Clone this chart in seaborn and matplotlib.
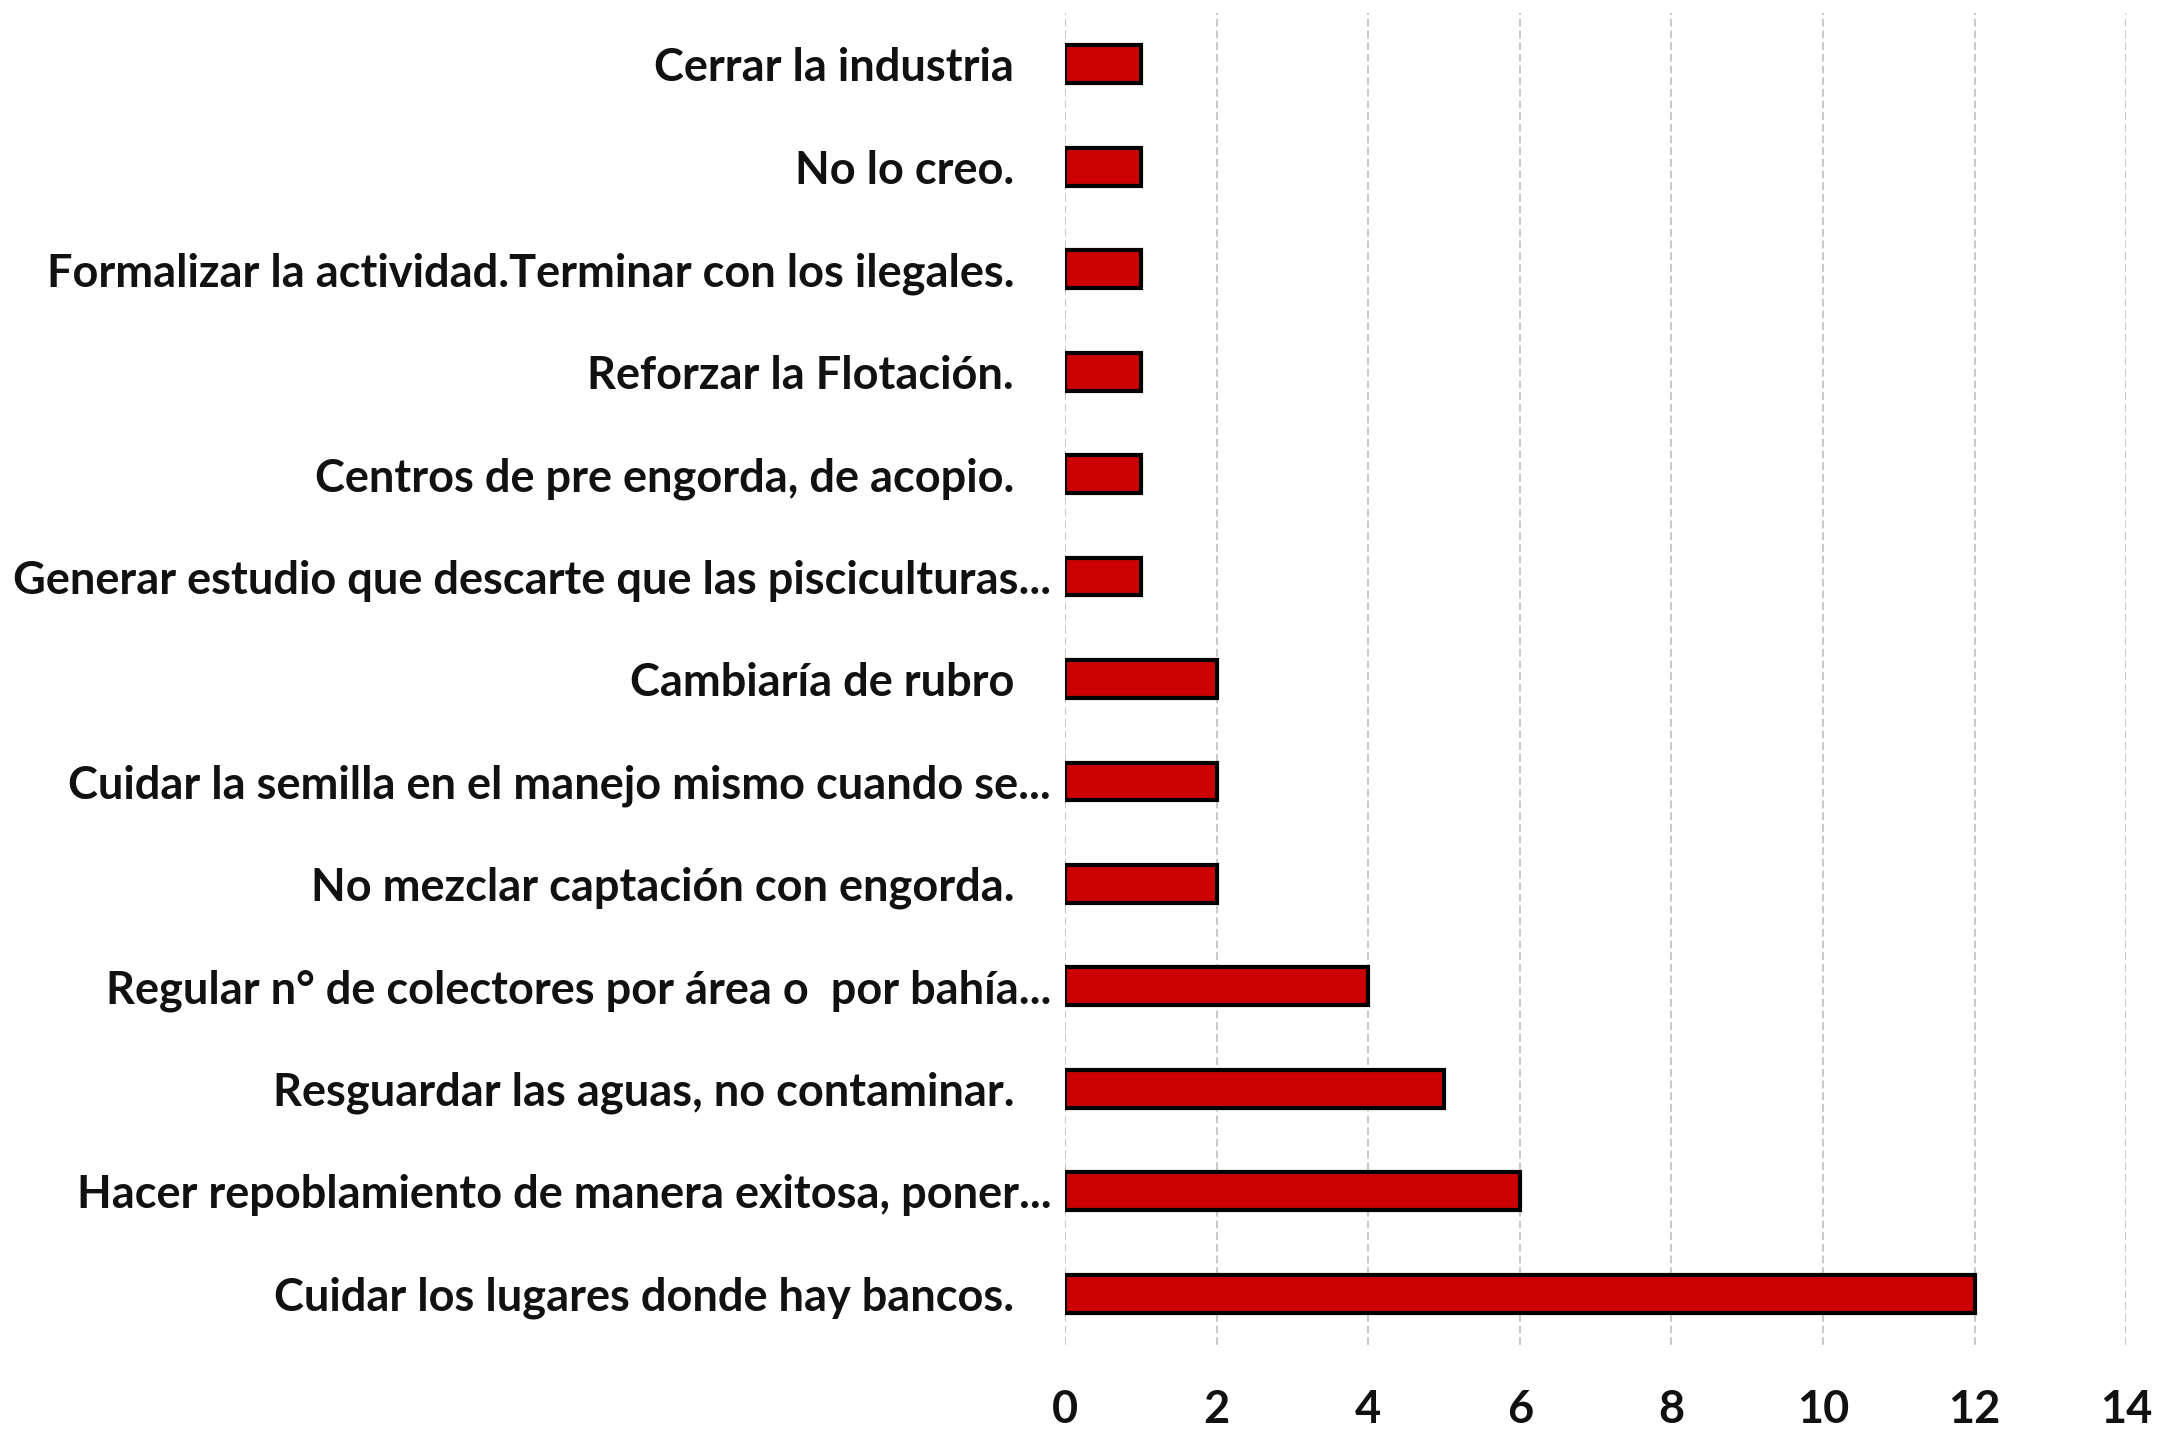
import matplotlib
matplotlib.use("Agg")
import matplotlib.pyplot as plt
import matplotlib.transforms as mtransforms
import seaborn as sns
import pandas as pd

# Survey answers and how many respondents gave each one
categories = [
    "Cerrar la industria",
    "No lo creo.",
    "Formalizar la actividad.Terminar con los ilegales.",
    "Reforzar la Flotación.",
    "Centros de pre engorda, de acopio.",
    "Generar estudio que descarte que las pisciculturas...",
    "Cambiaría de rubro",
    "Cuidar la semilla en el manejo mismo cuando se...",
    "No mezclar captación con engorda.",
    "Regular n° de colectores por área o  por bahía...",
    "Resguardar las aguas, no contaminar.",
    "Hacer repoblamiento de manera exitosa, poner...",
    "Cuidar los lugares donde hay bancos.",
]
counts = [1, 1, 1, 1, 1, 1, 2, 2, 2, 4, 5, 6, 12]
x_ticks = [0, 2, 4, 6, 8, 10, 12, 14]

df = pd.DataFrame({"respuesta": categories, "n": counts})

sns.set_theme(style="white")
plt.rcParams["font.family"] = ["Lato", "DejaVu Sans"]
plt.rcParams["font.weight"] = "bold"

fig = plt.figure(figsize=(21.63, 14.41), dpi=100)
ax = fig.add_axes([0.4924, 0.0666, 0.4906, 0.9244])

sns.barplot(data=df, x="n", y="respuesta", orient="h", color="#CC0000",
            saturation=1, width=0.37, edgecolor="black", linewidth=3, ax=ax)

ax.set_xlim(0, 14)
ax.set_ylim(len(categories) - 0.5, -0.5)
ax.set_xticks(x_ticks)
ax.set_xticklabels([str(t) for t in x_ticks])
ax.set_xlabel("")
ax.set_ylabel("")

ax.xaxis.grid(True, color="#c8c8c8", linestyle=(0, (4, 2)), linewidth=1.4)
ax.yaxis.grid(False)
ax.set_axisbelow(True)
for s in ax.spines.values():
    s.set_visible(False)

ax.tick_params(axis="both", length=0, labelsize=32.5, colors="#111111")
ax.tick_params(axis="x", pad=32)
ax.tick_params(axis="y", pad=10)

# Full answers sit a little further from the axis than truncated ones
shift = mtransforms.ScaledTranslation(-37 / 100, 0, fig.dpi_scale_trans)
for lbl in ax.get_yticklabels():
    lbl.set_fontweight("bold")
    if not lbl.get_text().endswith("..."):
        lbl.set_transform(lbl.get_transform() + shift)
for lbl in ax.get_xticklabels():
    lbl.set_fontweight("bold")

fig.savefig("out.png", dpi=100, facecolor="white")
